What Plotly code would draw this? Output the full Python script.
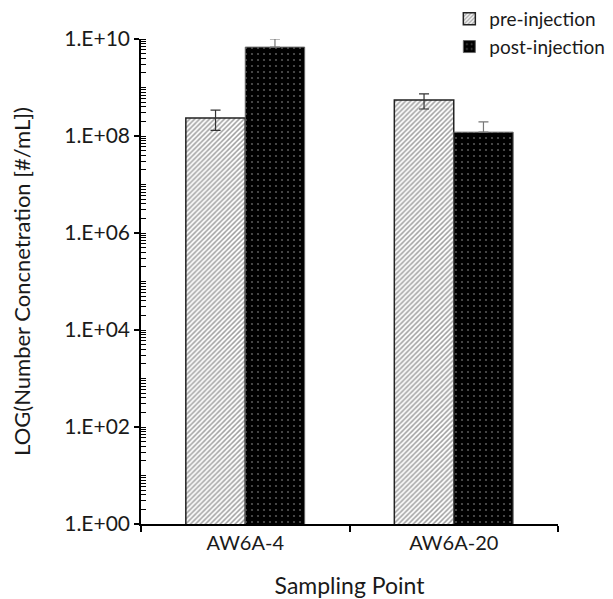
import plotly.graph_objects as go

categories = ["AW6A-4", "AW6A-20"]
pre_values = [2.35e8, 5.5e8]
pre_errors = [1.05e8, 1.9e8]
post_values = [6.8e9, 1.2e8]
post_errors = [3.3e9, 0.75e8]
post_errors_minus = [0, 0]
tick_vals = [1, 1e2, 1e4, 1e6, 1e8, 1e10]
tick_text = ["1.E+00", "1.E+02", "1.E+04", "1.E+06", "1.E+08", "1.E+10"]

FONT = "Lato"
TXT = "#1a1a1a"

fig = go.Figure()
fig.add_trace(go.Bar(
    x=categories, y=pre_values, name="pre-injection",
    marker=dict(color="white", line=dict(color="#222222", width=1.5),
                pattern=dict(shape="/", fgcolor="#444444", bgcolor="white", size=3.5, solidity=0.45)),
    error_y=dict(type="data", array=pre_errors, color="#333333", thickness=1.2, width=5),
))
fig.add_trace(go.Bar(
    x=categories, y=post_values, name="post-injection",
    marker=dict(color="black", line=dict(color="#666666", width=1),
                pattern=dict(shape=".", fgcolor="#aaaaaa", bgcolor="black", size=6, solidity=0.1)),
    error_y=dict(type="data", symmetric=False, array=post_errors, arrayminus=post_errors_minus,
                 color="#777777", thickness=1.2, width=5),
))

fig.update_layout(
    width=613, height=599,
    margin=dict(l=141, r=55, t=39, b=75, autoexpand=False),
    plot_bgcolor="white", paper_bgcolor="white",
    barmode="group", bargap=0.43, bargroupgap=0,
    font=dict(family=FONT, size=20, color=TXT),
    showlegend=True,
    legend=dict(xref="container", yref="container", x=0.733, y=1.022, xanchor="left", yanchor="top",
                font=dict(family=FONT, size=19, color=TXT),
                bgcolor="rgba(0,0,0,0)", itemwidth=30, tracegroupgap=0),
    xaxis=dict(
        showline=True, linecolor="black", linewidth=1.5,
        ticks="outside", tickson="boundaries", ticklen=6, tickcolor="black", tickwidth=1.5,
        tickfont=dict(family=FONT, size=20, color=TXT),
        title=dict(text="Sampling Point", font=dict(family=FONT, size=23, color=TXT), standoff=26),
        showgrid=False,
    ),
    yaxis=dict(
        type="log", range=[0, 10],
        showline=True, linecolor="black", linewidth=1.5,
        tickvals=tick_vals, ticktext=tick_text,
        ticks="outside", ticklen=5, tickcolor="black", tickwidth=1.5,
        tickfont=dict(family=FONT, size=21, color=TXT),
        minor=dict(ticks="inside", ticklen=5, tickcolor="black", tickwidth=1,
                   showgrid=False, dtick="D1"),
        title=dict(text="LOG(Number Concnetration [#/mL])", font=dict(family=FONT, size=22, color=TXT), standoff=28),
        showgrid=False, zeroline=False,
    ),
)

fig.write_html("out.html")
